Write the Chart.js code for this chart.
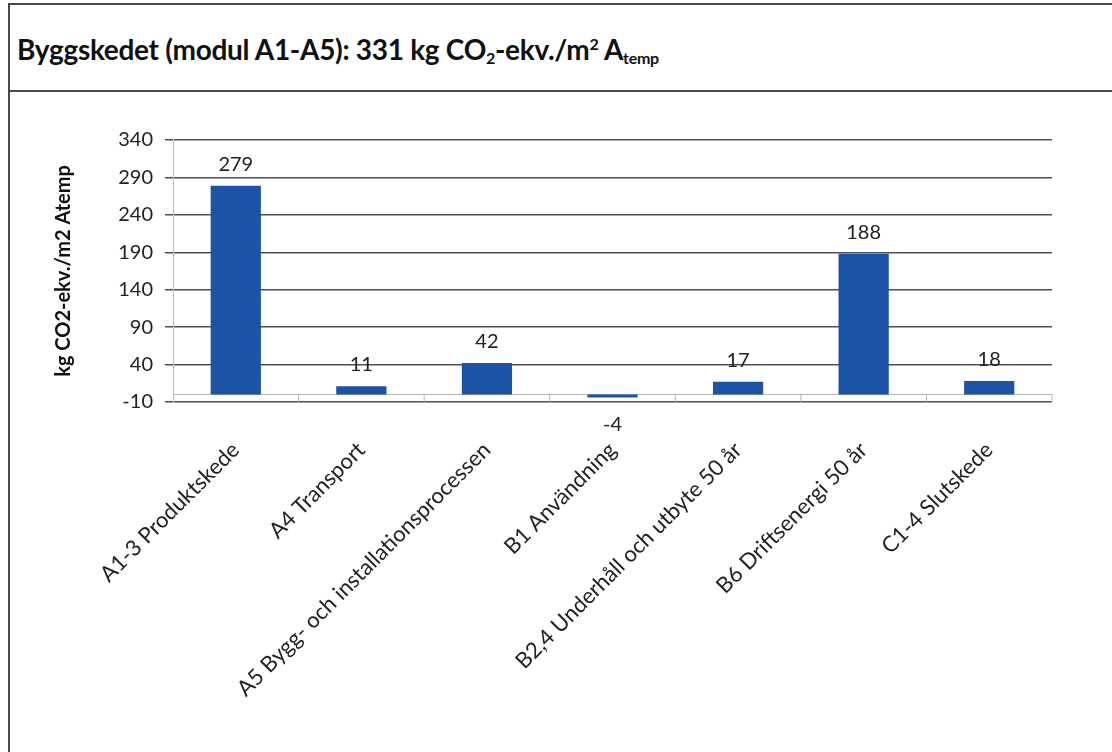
<!DOCTYPE html>
<html>
<head>
<meta charset="utf-8">
<script src="https://cdn.jsdelivr.net/npm/chart.js@4"></script>
<style>
  html, body { margin: 0; padding: 0; background: #fff; }
  body { width: 1112px; height: 752px; overflow: hidden; position: relative; font-family: Lato, sans-serif; }
  .frame { position: absolute; left: 8px; top: 3px; width: 1130px; height: 800px; border: 2px solid #4a4a4a; }
  .head { position: absolute; left: 8px; top: 3px; width: 1130px; height: 87px; border-bottom: 2px solid #4a4a4a; }
  .head h1 { margin: 0; position: absolute; left: 9px; top: 29px; font-size: 28px; font-weight: 700; color: #111; letter-spacing: -0.3px; }
  .head sub { font-size: 16px; vertical-align: -4px; line-height: 0; }
  .head sup { font-size: 16px; vertical-align: 10px; line-height: 0; }
  .wrap { position: absolute; left: 0; top: 93px; width: 1112px; height: 659px; }
</style>
</head>
<body>
<div class="frame"></div>
<div class="head"><h1>Byggskedet (modul A1-A5): 331 kg CO<sub>2</sub>-ekv./m<sup>2</sup> A<sub>temp</sub></h1></div>
<div class="wrap"><canvas id="chart"></canvas></div>
<script>
// ---- data ----
const categories = [
    'A1-3 Produktskede',
    'A4 Transport',
    'A5 Bygg- och installationsprocessen',
    'B1 Användning',
    'B2,4 Underhåll och utbyte 50 år',
    'B6 Driftsenergi 50 år',
    'C1-4 Slutskede'
];
const values = [279, 11, 42, -4, 17, 188, 18];
const yTicks = [-10, 40, 90, 140, 190, 240, 290, 340];
const yTitle = 'kg CO2-ekv./m2 Atemp';

const barColor = '#1d53a5';
const gridColor = '#4f4f4f';

// value labels + zero line with category ticks (Excel style)
const excelBits = {
    id: 'excelBits',
    beforeDatasetsDraw(chart) {
        const { ctx, chartArea, scales } = chart;
        const y0 = scales.y.getPixelForValue(0);
        const yb = scales.y.getPixelForValue(yTicks[0]);
        ctx.save();
        ctx.strokeStyle = '#b5b5b5';
        ctx.lineWidth = 1;
        ctx.beginPath();
        ctx.moveTo(chartArea.left, y0);
        ctx.lineTo(chartArea.right, y0);
        for (let i = 1; i <= categories.length; i++) {
            const x = (scales.x.getPixelForTick(i - 1) + (i < categories.length ? scales.x.getPixelForTick(i) : chartArea.right + (chartArea.right - scales.x.getPixelForTick(i - 1)))) / 2;
            ctx.moveTo(x, y0);
            ctx.lineTo(x, yb);
        }
        ctx.stroke();
        ctx.restore();
    },
    afterDatasetsDraw(chart) {
        const { ctx } = chart;
        const meta = chart.getDatasetMeta(0);
        ctx.save();
        ctx.font = '20px Lato';
        ctx.fillStyle = '#222';
        ctx.textAlign = 'center';
        meta.data.forEach((bar, i) => {
            const v = values[i];
            if (v >= 0) {
                ctx.textBaseline = 'alphabetic';
                ctx.fillText(String(v), bar.x, bar.y - 15);
            } else {
                ctx.textBaseline = 'top';
                ctx.fillText(String(v), bar.x, bar.y + 17);
            }
        });
        ctx.restore();
    }
};

new Chart(document.getElementById('chart'), {
    type: 'bar',
    data: {
        labels: categories,
        datasets: [{
            data: values,
            backgroundColor: barColor,
            barPercentage: 0.4,
            categoryPercentage: 1
        }]
    },
    options: {
        responsive: true,
        maintainAspectRatio: false,
        animation: false,
        layout: { padding: { top: 47, right: 60, left: 0, bottom: 0 } },
        plugins: { legend: { display: false }, tooltip: { enabled: false } },
        scales: {
            x: {
                grid: { display: false, drawTicks: false },
                border: { display: false },
                ticks: {
                    minRotation: 45, maxRotation: 45,
                    padding: 35,
                    color: '#222',
                    font: { family: 'Lato', size: 22 }
                },
                afterFit(s) { s.height = 350; }
            },
            y: {
                min: yTicks[0],
                max: yTicks[yTicks.length - 1],
                afterBuildTicks(s) { s.ticks = yTicks.map(v => ({ value: v })); },
                afterFit(s) { s.width = 173; },
                grid: { color: gridColor, lineWidth: 1.5, tickLength: 8 },
                border: { display: true, color: '#bdbdbd', width: 1 },
                ticks: {
                    padding: 12,
                    color: '#222',
                    font: { family: 'Lato', size: 20 }
                },
                title: {
                    display: true,
                    text: yTitle,
                    color: '#111',
                    padding: { top: 52, bottom: 0 },
                    font: { family: 'Lato', size: 20, weight: 'bold' }
                }
            }
        }
    },
    plugins: [excelBits]
});
</script>
</body>
</html>
